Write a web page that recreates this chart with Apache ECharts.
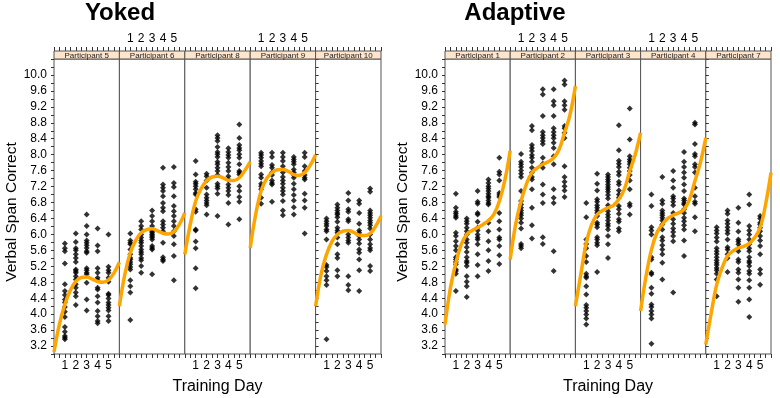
<!DOCTYPE html>
<html>
<head>
<meta charset="utf-8">
<script src="https://cdn.jsdelivr.net/npm/echarts@6.0.0/dist/echarts.min.js"></script>
<style>
html, body { margin: 0; padding: 0; background: #fff; }
#chart { width: 780px; height: 398px; }
</style>
</head>
<body>
<div id="chart"></div>
<script>
// panel names
var yokedNames = ['Participant 5', 'Participant 6', 'Participant 8', 'Participant 9', 'Participant 10'];
var adaptiveNames = ['Participant 1', 'Participant 2', 'Participant 3', 'Participant 4', 'Participant 7'];
var dayTicks = [1, 2, 3, 4, 5];
var yTickLabels = ['3.2', '3.6', '4.0', '4.4', '4.8', '5.2', '5.6', '6.0', '6.4', '6.8', '7.2', '7.6', '8.0', '8.4', '8.8', '9.2', '9.6', '10.0'];

// x positions where the fitted curves were read
var curveX = [0, 0.5, 1, 1.5, 2, 2.5, 3, 3.5, 4, 4.5, 5, 5.5, 6];

// ---- Yoked: scores per training day (day 1..5) ----
var p5 = [
  [5.77, 5.65, 5.58, 5.27, 4.75, 4.58, 4.48, 4.37, 4.29, 4.18, 4.06, 3.93, 3.68, 3.56, 3.45, 3.41, 3.37],
  [6.02, 5.81, 5.65, 5.60, 5.50, 5.41, 5.31, 5.12, 5.08, 5.04, 4.95, 4.87, 4.75, 4.66, 4.54, 4.45, 4.23],
  [6.50, 6.21, 6.00, 5.85, 5.79, 5.73, 5.66, 5.58, 5.54, 5.15, 5.10, 5.04, 5.00, 4.79, 4.37, 4.09],
  [6.15, 5.72, 5.58, 5.15, 5.04, 4.91, 4.85, 4.66, 4.62, 4.45, 4.29, 4.08, 3.95, 3.83, 3.77],
  [6.00, 5.19, 5.10, 5.04, 4.91, 4.81, 4.51, 4.48, 4.39, 4.29, 4.23, 4.16, 4.09, 3.95, 3.83]
];
var p6 = [
  [6.02, 5.85, 5.79, 5.75, 5.62, 5.50, 5.41, 5.37, 5.31, 5.25, 5.18, 5.12, 4.85, 4.70, 4.54, 3.85],
  [6.33, 6.21, 6.12, 6.00, 5.92, 5.85, 5.79, 5.71, 5.62, 5.56, 5.50, 5.41, 5.35, 5.21, 5.04],
  [6.60, 6.46, 6.33, 6.21, 6.12, 6.08, 6.04, 6.00, 5.96, 5.92, 5.87, 5.71, 5.66, 5.62, 5.00],
  [7.67, 7.25, 7.17, 7.09, 6.96, 6.79, 6.67, 6.58, 6.33, 6.25, 6.17, 6.08, 5.79, 5.43, 5.37, 5.33],
  [7.69, 7.29, 7.19, 6.96, 6.71, 6.58, 6.46, 6.33, 6.21, 6.08, 5.96, 5.75, 5.46, 4.85]
];
var p8 = [
  [7.84, 7.50, 7.32, 7.27, 7.21, 7.13, 7.04, 7.00, 6.63, 6.57, 6.12, 6.10, 5.82, 5.65, 5.15, 4.65],
  [7.52, 7.46, 7.35, 7.17, 7.00, 6.92, 6.85, 6.79, 6.73, 6.50],
  [8.49, 8.42, 8.34, 8.19, 8.07, 8.01, 7.94, 7.82, 7.76, 7.67, 7.59, 7.49, 7.27, 7.21, 7.15, 7.02, 6.46],
  [8.16, 8.07, 7.99, 7.92, 7.80, 7.69, 7.59, 7.46, 7.38, 7.25, 7.17, 7.09, 6.99, 6.79, 6.25],
  [8.76, 8.42, 8.24, 8.17, 8.11, 8.01, 7.92, 7.76, 7.59, 7.55, 7.50, 7.21, 7.09, 6.94, 6.82, 6.38]
];
var p9 = [
  [8.05, 7.99, 7.92, 7.84, 7.77, 7.71, 7.50, 7.42, 7.27, 7.21, 7.13, 6.92, 6.77],
  [8.05, 7.94, 7.74, 7.67, 7.55, 7.49, 7.35, 7.29, 7.25, 6.82],
  [8.05, 7.94, 7.84, 7.71, 7.55, 7.44, 7.35, 7.27, 7.17, 7.09, 7.00, 6.84, 6.60, 6.48],
  [7.94, 7.88, 7.82, 7.76, 7.63, 7.55, 7.49, 7.42, 7.27, 7.13, 6.99, 6.85, 6.68, 6.50],
  [8.05, 7.94, 7.71, 7.59, 7.49, 7.42, 7.38, 7.02, 6.85, 6.67, 6.02]
];
var p10 = [
  [6.40, 6.33, 6.27, 6.21, 6.12, 6.08, 5.87, 5.23, 5.18, 5.08, 4.95, 4.85, 4.73, 3.37],
  [6.75, 6.67, 6.60, 6.54, 6.50, 6.43, 6.32, 6.17, 6.10, 6.04, 5.92, 5.75, 5.50, 5.41, 5.10, 4.95],
  [7.04, 6.85, 6.63, 6.57, 6.38, 6.33, 6.00, 5.92, 5.85, 5.79, 4.95, 4.73, 4.60],
  [6.85, 6.77, 6.54, 6.27, 6.10, 6.04, 5.96, 5.87, 5.77, 5.62, 5.54, 5.37, 5.10, 4.58],
  [7.15, 7.07, 6.60, 6.54, 6.48, 6.42, 6.35, 6.29, 6.23, 6.15, 6.00, 5.87, 5.75, 5.66, 5.60, 5.21, 5.08]
];

// ---- Adaptive ----
var p1 = [
  [7.02, 6.67, 6.57, 6.52, 6.46, 6.42, 6.04, 5.96, 5.83, 5.71, 5.60, 5.43, 5.37, 5.31, 5.25, 5.12, 5.08, 5.01, 4.58],
  [6.40, 6.33, 6.27, 6.17, 6.08, 6.00, 5.87, 5.79, 5.68, 5.56, 5.43, 5.33, 5.29, 5.21, 4.95, 4.81, 4.70, 4.43],
  [7.09, 6.82, 6.77, 6.54, 6.50, 6.32, 6.17, 6.10, 6.00, 5.92, 5.87, 5.75, 5.50, 5.23, 4.95],
  [7.38, 7.29, 7.21, 7.15, 7.09, 7.02, 6.96, 6.92, 6.85, 6.79, 6.75, 6.29, 6.08, 5.83, 5.60, 5.33, 5.08],
  [7.92, 7.57, 7.50, 7.35, 7.04, 6.99, 6.94, 6.54, 6.33, 6.12, 5.92, 5.87, 5.71, 5.48, 5.26]
];
var p2 = [
  [8.02, 7.82, 7.76, 7.69, 7.60, 7.52, 7.44, 7.09, 6.84, 6.75, 6.67, 6.60, 6.54, 6.48, 6.40, 6.29, 6.15, 5.76, 5.71, 5.65],
  [8.72, 8.61, 8.24, 8.17, 8.09, 7.99, 7.92, 7.82, 7.67, 7.55, 7.44, 7.38, 7.13, 6.67, 6.23, 5.90],
  [9.64, 9.51, 8.97, 8.57, 8.49, 8.42, 8.34, 8.27, 7.92, 7.77, 7.67, 7.25, 7.00, 6.79, 5.93, 5.76],
  [9.64, 9.34, 9.24, 8.97, 8.66, 8.57, 8.49, 8.41, 8.30, 8.17, 7.96, 7.76, 7.13, 6.92, 6.79, 5.58, 5.08],
  [9.86, 9.76, 9.34, 9.24, 9.13, 8.72, 8.66, 8.55, 8.42, 7.71, 7.44, 7.32, 7.21, 7.10, 6.94]
];
var p3 = [
  [6.79, 6.43, 5.87, 5.76, 5.65, 5.46, 5.31, 5.01, 4.95, 4.91, 4.70, 4.49, 4.23, 4.16, 4.08, 3.99, 3.89, 3.74],
  [7.52, 7.27, 7.10, 6.88, 6.82, 6.73, 6.67, 6.60, 6.54, 6.46, 6.29, 6.25, 6.18, 5.93, 5.87, 5.79, 5.73, 5.06],
  [7.50, 7.44, 7.38, 7.32, 7.25, 7.19, 7.13, 7.07, 6.99, 6.90, 6.73, 6.67, 6.58, 6.50, 6.43, 6.35, 6.27, 6.21, 6.12, 5.96, 5.75, 5.41],
  [8.74, 8.11, 7.85, 7.77, 7.69, 7.57, 7.49, 7.32, 7.25, 7.10, 7.00, 6.92, 6.71, 6.63, 6.52, 6.38, 6.32, 6.15, 6.08],
  [9.16, 8.38, 7.96, 7.88, 7.82, 7.76, 7.67, 7.59, 7.49, 7.35, 7.13, 6.77, 6.71, 6.50]
];
var p4 = [
  [7.00, 6.71, 6.18, 6.10, 6.00, 5.43, 5.37, 5.04, 5.00, 4.66, 4.51, 4.24, 4.18, 4.08, 3.99, 3.89, 3.26],
  [7.44, 6.85, 6.77, 6.60, 6.54, 6.48, 6.42, 6.35, 6.25, 6.12, 5.93, 5.85, 5.73, 5.62, 5.50, 5.29, 4.87],
  [7.59, 7.35, 7.17, 6.96, 6.90, 6.82, 6.73, 6.54, 6.38, 6.27, 6.15, 6.06, 5.96, 5.83, 4.54],
  [8.07, 7.82, 7.69, 7.55, 7.42, 7.25, 7.09, 6.90, 6.85, 6.79, 6.75, 6.63, 6.54, 6.42, 6.33, 6.23, 6.12, 5.85, 5.46],
  [8.80, 8.76, 8.27, 8.02, 7.96, 7.76, 7.69, 7.55, 7.17, 6.96, 6.82, 6.77, 6.43, 6.08]
];
var p7 = [
  [6.18, 6.10, 6.02, 5.92, 5.82, 5.65, 5.58, 5.51, 5.43, 5.35, 5.29, 5.23, 5.16, 5.10, 5.01, 4.87, 4.45],
  [6.60, 6.52, 6.35, 6.27, 6.18, 6.10, 6.02, 5.87, 5.68, 5.62, 5.50, 5.41, 5.06],
  [6.67, 6.29, 6.07, 5.87, 5.82, 5.75, 5.65, 5.58, 5.37, 5.31, 5.12, 5.04, 4.87, 4.66, 4.31],
  [7.00, 6.75, 6.21, 6.10, 6.00, 5.87, 5.75, 5.65, 5.58, 5.43, 5.33, 5.29, 5.21, 5.08, 5.01, 4.85, 4.66, 4.37, 3.93],
  [6.46, 6.40, 6.29, 6.25, 6.17, 6.08, 5.96, 5.85, 5.71, 5.50, 5.12, 5.01, 4.74]
];

// fitted curves, read at curveX
var c5  = [3.05, 3.75, 4.25, 4.60, 4.82, 4.92, 4.93, 4.88, 4.82, 4.80, 4.86, 5.03, 5.30];
var c6  = [4.20, 5.00, 5.54, 5.85, 6.04, 6.12, 6.14, 6.09, 6.03, 6.01, 6.07, 6.25, 6.54];
var c8  = [5.50, 6.25, 6.84, 7.15, 7.35, 7.44, 7.46, 7.42, 7.36, 7.35, 7.42, 7.60, 7.82];
var c9  = [5.66, 6.50, 7.09, 7.40, 7.55, 7.62, 7.63, 7.58, 7.50, 7.48, 7.55, 7.73, 8.00];
var c10 = [4.20, 5.00, 5.50, 5.82, 6.00, 6.08, 6.10, 6.05, 5.98, 5.97, 6.02, 6.20, 6.46];
var c1  = [3.74, 4.66, 5.29, 5.75, 6.00, 6.10, 6.17, 6.25, 6.35, 6.50, 6.83, 7.35, 8.10];
var c2  = [5.37, 6.25, 6.84, 7.27, 7.55, 7.67, 7.76, 7.82, 7.92, 8.13, 8.55, 9.00, 9.72];
var c3  = [4.20, 5.00, 5.79, 6.25, 6.50, 6.60, 6.67, 6.73, 6.88, 7.13, 7.59, 8.00, 8.55];
var c4  = [4.08, 4.95, 5.62, 6.04, 6.25, 6.40, 6.48, 6.54, 6.63, 6.88, 7.34, 7.80, 8.42];
var c7  = [3.24, 4.03, 4.74, 5.16, 5.46, 5.58, 5.66, 5.70, 5.77, 5.92, 6.17, 6.75, 7.55];

var FONT = '"Liberation Sans", Arial, sans-serif';
var TOP = 59, H = 295, STRIP = 8;
var LINE = '#555';

var groups = [
  { title: 'Yoked', left: 54, w: 65.4, names: yokedNames, pts: [p5, p6, p8, p9, p10], fits: [c5, c6, c8, c9, c10] },
  { title: 'Adaptive', left: 445, w: 65.2, names: adaptiveNames, pts: [p1, p2, p3, p4, p7], fits: [c1, c2, c3, c4, c7] }
];

function xLabel(v) { return dayTicks.indexOf(v) >= 0 ? String(v) : ''; }
function yLabel(v) { var s = v.toFixed(1); return yTickLabels.indexOf(s) >= 0 ? s : ''; }

function xAx(gi, pos, showLabel, offset) {
  return {
    gridIndex: gi, type: 'value', position: pos, offset: offset,
    min: 0, max: 6, interval: 0.5,
    axisLine: { show: false },
    axisTick: { show: true, length: 4, lineStyle: { color: '#333' } },
    axisLabel: { show: showLabel, formatter: xLabel, fontFamily: FONT, fontSize: 12, color: '#000', margin: 6 },
    splitLine: { show: false }
  };
}
function yAx(gi, pos, showTick, showLabel) {
  return {
    gridIndex: gi, type: 'value', position: pos,
    min: 3.0, max: 10.4, interval: 0.2,
    axisLine: { show: false },
    axisTick: { show: showTick, length: 3, lineStyle: { color: '#333' } },
    axisLabel: { show: showLabel, formatter: yLabel, fontFamily: FONT, fontSize: 12, color: '#000', margin: 7 },
    splitLine: { show: false }
  };
}

var grid = [], xAxis = [], yAxis = [], series = [], graphic = [];

groups.forEach(function (g) {
  g.names.forEach(function (name, i) {
    var gi = grid.length;
    var left = g.left + i * g.w;
    grid.push({ left: left, top: TOP, width: g.w, height: H, show: true,
      borderColor: LINE, borderWidth: 1, backgroundColor: '#fff',
      containLabel: false, outerBoundsMode: 'none' });
    var xi = xAxis.length;
    xAxis.push(xAx(gi, 'bottom', i % 2 === 0, 0));
    xAxis.push(xAx(gi, 'top', i % 2 === 1, STRIP));
    var yi = yAxis.length;
    yAxis.push(yAx(gi, 'left', i === 0, i === 0));
    if (i === 4) yAxis.push(yAx(gi, 'right', true, false));

    var pts = [];
    g.pts[i].forEach(function (vals, d) {
      vals.forEach(function (v) { pts.push([dayTicks[d], v]); });
    });
    series.push({
      type: 'scatter', xAxisIndex: xi, yAxisIndex: yi, data: pts,
      symbol: 'diamond', symbolSize: 6, itemStyle: { color: '#000' }, silent: true, z: 2
    });
    series.push({
      type: 'line', xAxisIndex: xi, yAxisIndex: yi,
      data: curveX.map(function (x, k) { return [x, g.fits[i][k]]; }),
      smooth: 0.4, symbol: 'none', clip: true,
      lineStyle: { color: '#FFA500', width: 3.5 }, silent: true, z: 3
    });

    // strip header
    graphic.push({ type: 'rect', shape: { x: left, y: TOP - STRIP, width: g.w, height: STRIP },
      style: { fill: '#ffe5cc', stroke: LINE, lineWidth: 1 }, z: 10 });
    graphic.push({ type: 'text', x: left + g.w / 2, y: TOP - STRIP / 2 + 0.5,
      style: { text: name, font: '8px ' + FONT, fill: '#222', align: 'center', verticalAlign: 'middle',
        textAlign: 'center', textVerticalAlign: 'middle' }, z: 11 });
  });

  var mid = g.left + g.w * 2.5;
  graphic.push({ type: 'text', x: g.title === 'Yoked' ? 120 : 515, y: 13,
    style: { text: g.title, font: 'bold 24px ' + FONT, fill: '#000', align: 'center', verticalAlign: 'middle',
      textAlign: 'center', textVerticalAlign: 'middle' } });
  graphic.push({ type: 'text', x: mid, y: 387,
    style: { text: 'Training Day', font: '16px ' + FONT, fill: '#000', align: 'center', verticalAlign: 'middle',
      textAlign: 'center', textVerticalAlign: 'middle' } });
  graphic.push({ type: 'text', x: g.left - 42, y: 212, rotation: Math.PI / 2,
    style: { text: 'Verbal Span Correct', font: '15.5px ' + FONT, fill: '#000', align: 'center', verticalAlign: 'middle',
      textAlign: 'center', textVerticalAlign: 'middle' } });
});

var chart = echarts.init(document.getElementById('chart'));
chart.setOption({
  animation: false,
  backgroundColor: '#fff',
  grid: grid,
  xAxis: xAxis,
  yAxis: yAxis,
  series: series,
  graphic: graphic
});
</script>
</body>
</html>
